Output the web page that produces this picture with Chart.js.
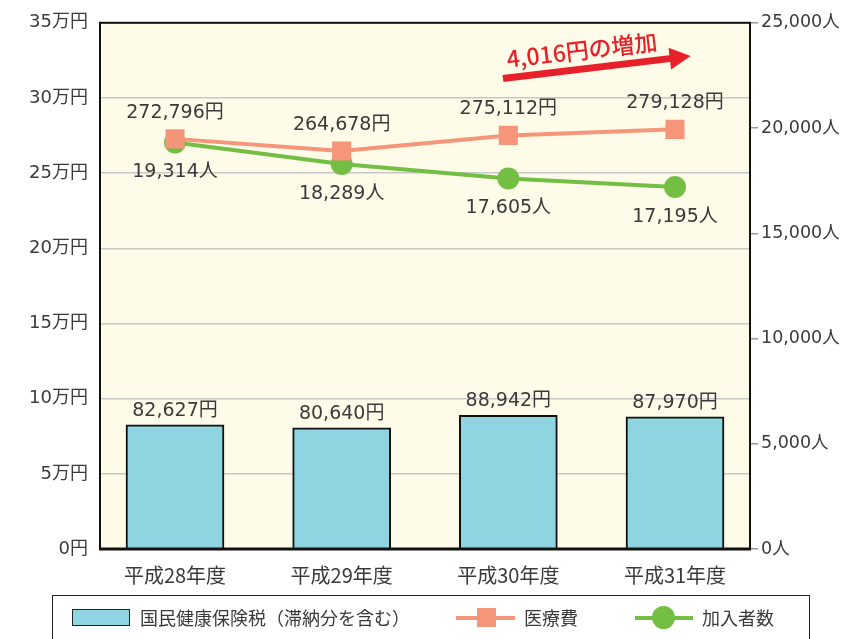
<!DOCTYPE html>
<html>
<head>
<meta charset="utf-8">
<script src="https://cdn.jsdelivr.net/npm/chart.js@4.4.1/dist/chart.umd.min.js"></script>
<style>
  body { margin: 0; background: #fff; }
  #wrap { position: relative; width: 845px; height: 639px; overflow: hidden; font-family: "Noto Sans CJK JP", sans-serif; color: #3a3a3a; }
  #chart { position: absolute; left: 0; top: 0; }
  .legend-box { position: absolute; left: 52px; top: 595px; width: 756px; height: 70px; border: 1.5px solid #222; }
  .lg { position: absolute; font-size: 18px; line-height: 18px; }
</style>
</head>
<body>
<div id="wrap">
  <canvas id="chart" width="845" height="639"></canvas>
  <div class="legend-box"></div>
  <div style="position:absolute;left:72px;top:609px;width:56px;height:15px;background:#8fd5e1;border:1.5px solid #222;"></div>
  <div class="lg" style="left:140px;top:608px;">国民健康保険税（滞納分を含む）</div>
  <div style="position:absolute;left:456px;top:616px;width:59px;height:4px;background:#f5967a;"></div>
  <div style="position:absolute;left:477px;top:608px;width:19px;height:19px;background:#f5967a;"></div>
  <div class="lg" style="left:524px;top:608px;">医療費</div>
  <div style="position:absolute;left:635px;top:616px;width:58px;height:4px;background:#72bf44;"></div>
  <div style="position:absolute;left:652px;top:606px;width:23px;height:23px;border-radius:50%;background:#72bf44;"></div>
  <div class="lg" style="left:702px;top:608px;">加入者数</div>
</div>
<script>
// 年度
const years = ['平成28年度', '平成29年度', '平成30年度', '平成31年度'];
// 国民健康保険税（円）
const taxValues = [82627, 80640, 88942, 87970];
// 医療費（円）
const medicalValues = [272796, 264678, 275112, 279128];
// 加入者数（人）
const memberValues = [19314, 18289, 17605, 17195];
// 目盛り
const leftTicks = [0, 50000, 100000, 150000, 200000, 250000, 300000, 350000];
const rightTicks = [0, 5000, 10000, 15000, 20000, 25000];
const note = '4,016円の増加';

const FONT = '"DejaVu Sans", "Noto Sans CJK JP", sans-serif';
const JP = '"Noto Sans CJK JP", sans-serif';
const TEXT = '#3a3a3a';

const fmt = v => v.toLocaleString('en-US');
const xy = arr => arr.map((v, i) => ({ x: i, y: v }));

const frame = {
    id: 'frame',
    beforeDraw(chart) {
        const { ctx, chartArea: a } = chart;
        ctx.save();
        ctx.fillStyle = '#fefbe9';
        ctx.fillRect(a.left, a.top, a.right - a.left, a.bottom - a.top);
        ctx.restore();
    },
    afterDatasetsDraw(chart) {
        const { ctx, chartArea: a } = chart;
        ctx.save();
        ctx.strokeStyle = '#111';
        ctx.lineWidth = 2;
        ctx.strokeRect(a.left, a.top, a.right - a.left, a.bottom - a.top);
        ctx.lineWidth = 3;
        ctx.beginPath();
        ctx.moveTo(a.left - 1, a.bottom);
        ctx.lineTo(a.right + 1, a.bottom);
        ctx.stroke();

        // value labels
        ctx.font = '19px ' + FONT;
        ctx.fillStyle = TEXT;
        ctx.textAlign = 'center';
        ctx.textBaseline = 'middle';
        const offs = [-14, 30, -26];
        const units = ['円', '人', '円'];
        chart.data.datasets.forEach((ds, di) => {
            const meta = chart.getDatasetMeta(di);
            meta.data.forEach((el, i) => {
                ctx.fillText(fmt(ds.data[i].y) + units[di], el.x, el.y + offs[di]);
            });
        });

        // arrow note
        const ang = -6.8 * Math.PI / 180;
        ctx.fillStyle = '#e8202a';
        ctx.translate(503, 78.5);
        ctx.rotate(ang);
        ctx.fillRect(0, -3.5, 172, 7);
        ctx.beginPath();
        ctx.moveTo(168, -11);
        ctx.lineTo(189, 0);
        ctx.lineTo(168, 11);
        ctx.closePath();
        ctx.fill();
        ctx.font = '500 23px ' + JP;
        ctx.textAlign = 'left';
        ctx.textBaseline = 'alphabetic';
        ctx.fillText(note, 6, -10);
        ctx.restore();
    }
};

new Chart(document.getElementById('chart'), {
    data: {
        datasets: [
            {
                type: 'bar',
                label: '国民健康保険税（滞納分を含む）',
                data: xy(taxValues),
                yAxisID: 'y',
                backgroundColor: '#8fd5e1',
                borderColor: '#111',
                borderWidth: 2,
                barThickness: 98,
                order: 3
            },
            {
                type: 'line',
                label: '加入者数',
                data: xy(memberValues),
                yAxisID: 'y1',
                borderColor: '#72bf44',
                backgroundColor: '#72bf44',
                borderWidth: 4,
                pointStyle: 'circle',
                pointRadius: 11,
                pointBorderWidth: 0,
                order: 2
            },
            {
                type: 'line',
                label: '医療費',
                data: xy(medicalValues),
                yAxisID: 'y',
                borderColor: '#f5967a',
                backgroundColor: '#f5967a',
                borderWidth: 4,
                pointStyle: 'rect',
                pointRadius: 13.5,
                pointBorderWidth: 0,
                order: 1
            }
        ]
    },
    options: {
        responsive: false,
        animation: false,
        layout: { padding: { top: 20, left: 0, right: 0, bottom: 0 } },
        plugins: { legend: { display: false }, tooltip: { enabled: false } },
        scales: {
            x: {
                type: 'linear',
                offset: false,
                min: -0.45,
                max: 3.45,
                afterFit: s => { s.height = 90; },
                afterBuildTicks: s => { s.ticks = years.map((_, i) => ({ value: i })); },
                grid: { display: false, offset: false },
                border: { display: false },
                ticks: {
                    callback: v => years[v],
                    color: TEXT,
                    font: { family: JP, size: 20 },
                    padding: 6,
                    maxRotation: 0,
                    autoSkip: false
                }
            },
            y: {
                position: 'left',
                min: 0,
                max: 350000,
                afterFit: s => { s.width = 100; },
                afterBuildTicks: s => { s.ticks = leftTicks.map(v => ({ value: v })); },
                grid: { color: '#c8c8c8', lineWidth: 1.5, drawTicks: false },
                border: { display: false },
                ticks: {
                    callback: v => (v === 0 ? '0' : (v / 10000) + '万') + '円',
                    color: TEXT,
                    font: { family: FONT, size: 18 },
                    padding: 12
                }
            },
            y1: {
                position: 'right',
                min: 0,
                max: 25000,
                afterFit: s => { s.width = 95; },
                afterBuildTicks: s => { s.ticks = rightTicks.map(v => ({ value: v })); },
                grid: { drawOnChartArea: false, color: '#999', tickLength: 8, lineWidth: 1.5 },
                border: { display: false },
                ticks: {
                    callback: v => fmt(v) + '人',
                    color: TEXT,
                    font: { family: FONT, size: 17.5 },
                    padding: 3
                }
            }
        }
    },
    plugins: [frame]
});
</script>
</body>
</html>
